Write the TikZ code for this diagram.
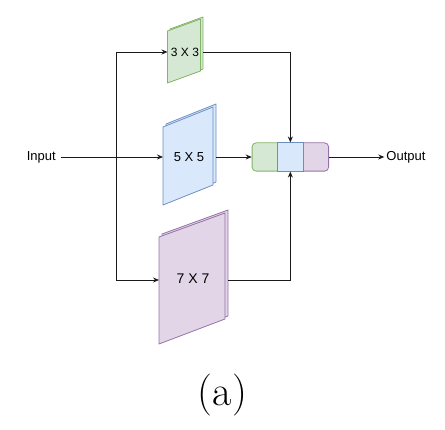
\documentclass[tikz,border=0pt]{standalone}
\usepackage{fontspec}
\newfontfamily\labelfont{Liberation Sans}
\usetikzlibrary{arrows.meta, positioning}

\definecolor{gfill}{HTML}{D5E8D4}
\definecolor{gline}{HTML}{82B366}
\definecolor{bfill}{HTML}{DAE8FC}
\definecolor{bline}{HTML}{6C8EBF}
\definecolor{pfill}{HTML}{E1D5E7}
\definecolor{pline}{HTML}{9673A6}
\definecolor{wirecol}{HTML}{1A1A1A}

\begin{document}
\begin{tikzpicture}[x=1pt, y=1pt,
        wire/.style = {draw=wirecol, line width=0.8pt},
        arr/.style = {wire, -{Stealth[length=6pt, width=5pt]}},
        lbl/.style = {font=\labelfont\fontsize{13}{15}\selectfont, inner sep=1pt},
        gplate/.style = {fill=gfill, draw=gline, line width=0.8pt, line join=round},
        bplate/.style = {fill=bfill, draw=bline, line width=0.8pt, line join=round},
        pplate/.style = {fill=pfill, draw=pline, line width=0.8pt, line join=round},
        catend/.style = {rounded corners=4pt, minimum width=40pt, minimum height=28.3pt, inner sep=0pt, line width=0.8pt},
        catmid/.style = {minimum width=26pt, minimum height=28.3pt, inner sep=0pt, line width=0.8pt}]
    \useasboundingbox (0,0) rectangle (445,429);

    % kernels
    \filldraw[gplate] (170,348) -- (203,360) -- (203,412) -- (170,400) -- cycle;
    \filldraw[gplate] (167.5,346) -- (200.5,358) -- (200.5,410) -- (167.5,398) -- cycle;
    \node[lbl, font=\labelfont\fontsize{12}{14}\selectfont] (k3) at (185,377) {3 X 3};
    \coordinate (k3in) at (167.5,377);
    \coordinate (k3out) at (203,377);

    \filldraw[bplate] (166,227) -- (216,247) -- (216,325) -- (166,305) -- cycle;
    \filldraw[bplate] (163,224) -- (213,244) -- (213,322) -- (163,302) -- cycle;
    \node[lbl] (k5) at (189,272) {5 X 5};
    \coordinate (k5in) at (163,272);
    \coordinate (k5out) at (216,272);

    \filldraw[pplate] (162,88) -- (228,113) -- (228,219) -- (162,195) -- cycle;
    \filldraw[pplate] (159,85) -- (225,110) -- (225,216) -- (159,192) -- cycle;
    \node[lbl, font=\labelfont\fontsize{14}{16}\selectfont] (k7) at (193,150) {7 X 7};
    \coordinate (k7in) at (159,149);
    \coordinate (k7out) at (228,149);

    % concat
    \node[catend, fill=gfill, draw=gline, anchor=west] (catg) at (251.7,272) {};
    \node[catend, fill=pfill, draw=pline, anchor=east] (catp) at (329,272) {};
    \node[catmid, fill=bfill, draw=bline] (cat) at (290.35,272) {};

    \node[lbl, inner xsep=5.5pt] (input) at (41.3,272) {Input};
    \node[lbl, inner xsep=2pt] (output) at (406,272) {Output};
    \coordinate (split) at (116,272);

    \draw[arr] (input) -- (k5in);
    \draw[arr] (split) |- (k3in);
    \draw[arr] (split) |- (k7in);
    \draw[arr] (k5out) -- (catg.west);
    \draw[arr] (k3out) -| (cat.north);
    \draw[arr] (k7out) -| (cat.south);
    \draw[arr] (catp.east) -- (output);

    \node[font=\fontsize{42}{48}\selectfont] (cap) at (222.5,33.5) {(a)};
\end{tikzpicture}
\end{document}
